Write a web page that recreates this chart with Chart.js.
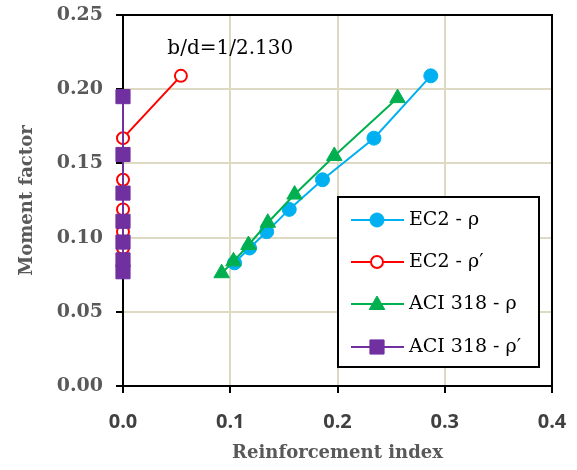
<!DOCTYPE html>
<html>
<head>
<meta charset="utf-8">
<script src="https://cdn.jsdelivr.net/npm/chart.js@4.4.0/dist/chart.umd.min.js"></script>
<style>
  html, body { margin: 0; padding: 0; background: #fff; }
  #wrap { width: 577px; height: 470px; }
</style>
</head>
<body>
<div id="wrap"><canvas id="c" width="577" height="470"></canvas></div>
<script>
// ---- data ----
const xTickLabels = ['0.0', '0.1', '0.2', '0.3', '0.4'];
const yTickLabels = ['0.00', '0.05', '0.10', '0.15', '0.20', '0.25'];

const seriesNames = ['EC2 - ρ', 'EC2 - ρ′', 'ACI 318 - ρ', 'ACI 318 - ρ′'];

const ec2RhoX  = [0.104, 0.118, 0.134, 0.155, 0.186, 0.234, 0.287];
const ec2RhoY  = [0.083, 0.093, 0.104, 0.119, 0.139, 0.167, 0.209];
const ec2RhoPX = [0, 0, 0, 0, 0, 0, 0.054];
const ec2RhoPY = [0.083, 0.093, 0.104, 0.119, 0.139, 0.167, 0.209];
const aciRhoX  = [0.092, 0.103, 0.117, 0.135, 0.160, 0.197, 0.256];
const aciRhoY  = [0.076, 0.084, 0.095, 0.110, 0.129, 0.155, 0.194];
const aciRhoPX = [0, 0, 0, 0, 0, 0, 0];
const aciRhoPY = [0.077, 0.085, 0.097, 0.111, 0.130, 0.156, 0.195];

const annotationText = 'b/d=1/2.130';
const annotationAt = { x: 0.1, y: 0.227 };

function pts(xs, ys) { return xs.map((x, i) => ({ x: x, y: ys[i] })); }

const SERIF = '"DejaVu Serif", serif';

const boxPlugin = {
  id: 'box',
  beforeDatasetsDraw(chart) {
    const a = chart.chartArea, ctx = chart.ctx;
    ctx.save();
    ctx.strokeStyle = '#000';
    ctx.lineWidth = 2;
    ctx.beginPath();
    ctx.moveTo(a.left - 7, a.top);
    ctx.lineTo(a.right, a.top);
    ctx.lineTo(a.right, a.bottom);
    ctx.stroke();
    ctx.restore();
  }
};

function drawMarker(ctx, style, x, y, r, fill, stroke, bw) {
  ctx.save();
  ctx.fillStyle = fill;
  ctx.strokeStyle = stroke;
  ctx.lineWidth = bw;
  ctx.beginPath();
  if (style === 'circle') {
    ctx.arc(x, y, r, 0, Math.PI * 2);
  } else if (style === 'triangle') {
    const w = r * Math.sqrt(3) / 2;
    ctx.moveTo(x, y - r);
    ctx.lineTo(x + w, y + r / 2);
    ctx.lineTo(x - w, y + r / 2);
    ctx.closePath();
  } else if (style === 'rect') {
    const s = r * Math.SQRT1_2;
    ctx.rect(x - s, y - s, 2 * s, 2 * s);
  }
  ctx.fill();
  ctx.stroke();
  ctx.restore();
}

const legendPlugin = {
  id: 'innerLegend',
  afterDraw(chart) {
    const ctx = chart.ctx;
    const bx = 338, by = 197, bw = 201, bh = 170;
    ctx.save();
    ctx.fillStyle = '#fff';
    ctx.fillRect(bx, by, bw, bh);
    ctx.strokeStyle = '#000';
    ctx.lineWidth = 2;
    ctx.strokeRect(bx, by, bw, bh);
    const ys = [220, 262, 304, 347];
    chart.data.datasets.forEach((ds, i) => {
      const y = ys[i];
      ctx.strokeStyle = ds.borderColor;
      ctx.lineWidth = ds.borderWidth;
      ctx.beginPath();
      ctx.moveTo(351, y);
      ctx.lineTo(404, y);
      ctx.stroke();
      drawMarker(ctx, ds.pointStyle, 377, ds.pointStyle === 'triangle' ? y + 1 : y, ds.pointRadius,
                 ds.pointBackgroundColor, ds.pointBorderColor, ds.pointBorderWidth);
      ctx.fillStyle = '#000';
      ctx.font = '19px ' + SERIF;
      ctx.textBaseline = 'middle';
      ctx.textAlign = 'left';
      ctx.fillText(ds.label, 409, y);
    });
    // annotation
    const xs = chart.scales.x, yscale = chart.scales.y;
    ctx.fillStyle = '#000';
    ctx.font = '20px ' + SERIF;
    ctx.textAlign = 'center';
    ctx.textBaseline = 'middle';
    ctx.fillText(annotationText, xs.getPixelForValue(annotationAt.x), yscale.getPixelForValue(annotationAt.y));
    ctx.restore();
  }
};

new Chart(document.getElementById('c'), {
  type: 'scatter',
  data: {
    datasets: [
      {
        label: seriesNames[0], data: pts(ec2RhoX, ec2RhoY), showLine: true,
        borderColor: '#00b0f0', borderWidth: 2, pointStyle: 'circle', pointRadius: 7,
        pointBackgroundColor: '#00b0f0', pointBorderColor: '#00b0f0', pointBorderWidth: 1,
        order: 4, clip: false
      },
      {
        label: seriesNames[1], data: pts(ec2RhoPX, ec2RhoPY), showLine: true,
        borderColor: '#ff0000', borderWidth: 2, pointStyle: 'circle', pointRadius: 6,
        pointBackgroundColor: '#ffffff', pointBorderColor: '#ff0000', pointBorderWidth: 2,
        order: 3, clip: false
      },
      {
        label: seriesNames[2], data: pts(aciRhoX, aciRhoY), showLine: true,
        borderColor: '#00b050', borderWidth: 2, pointStyle: 'triangle', pointRadius: 9,
        pointBackgroundColor: '#00b050', pointBorderColor: '#00b050', pointBorderWidth: 1,
        order: 2, clip: false
      },
      {
        label: seriesNames[3], data: pts(aciRhoPX, aciRhoPY), showLine: true,
        borderColor: '#7030a0', borderWidth: 2, pointStyle: 'rect', pointRadius: 10,
        pointBackgroundColor: '#7030a0', pointBorderColor: '#7030a0', pointBorderWidth: 1,
        order: 1, clip: false
      }
    ]
  },
  options: {
    responsive: false,
    devicePixelRatio: 1,
    animation: false,
    layout: { padding: { top: 15, right: 25, left: 0, bottom: 0 } },
    plugins: { legend: { display: false }, tooltip: { enabled: false } },
    scales: {
      x: {
        type: 'linear', min: 0, max: 0.4,
        afterFit(s) { s.height = 84; s.paddingLeft = 0; s.paddingRight = 0; },
        ticks: {
          stepSize: 0.1, padding: 17, color: '#404040',
          font: { family: '"Open Sans", sans-serif', size: 20, weight: 'bold' },
          callback: (v, i) => xTickLabels[i]
        },
        grid: { color: '#ddd9c3', lineWidth: 2, tickColor: '#000', tickWidth: 2, tickLength: 7 },
        border: { color: '#000', width: 2 },
        title: {
          display: true, text: 'Reinforcement index', color: '#595959',
          font: { family: SERIF, size: 18, weight: 'bold' },
          padding: { top: 0, bottom: 6 }
        }
      },
      y: {
        type: 'linear', min: 0, max: 0.25,
        afterFit(s) { s.width = 123; s.paddingTop = 0; s.paddingBottom = 0; },
        ticks: {
          stepSize: 0.05, padding: 13, color: '#595959',
          font: { family: SERIF, size: 19, weight: 'bold' },
          callback: (v, i) => yTickLabels[i]
        },
        grid: { color: '#ddd9c3', lineWidth: 2, tickColor: '#000', tickWidth: 2, tickLength: 7 },
        border: { color: '#000', width: 2 },
        title: {
          display: true, text: 'Moment factor', color: '#595959',
          font: { family: SERIF, size: 18, weight: 'bold' },
          padding: { top: 17, bottom: 0 }
        }
      }
    }
  },
  plugins: [boxPlugin, legendPlugin]
});
</script>
</body>
</html>
